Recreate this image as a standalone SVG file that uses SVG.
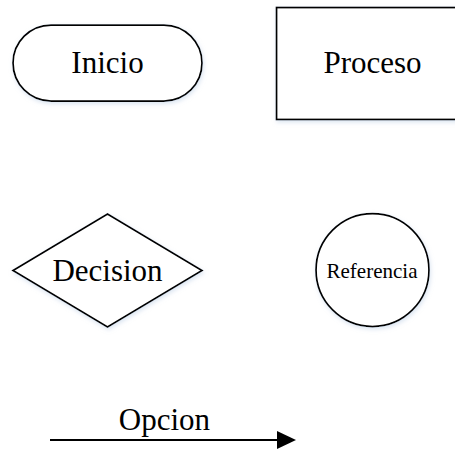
<svg xmlns="http://www.w3.org/2000/svg" width="455" height="450" viewBox="0 0 455 450">
  <defs>
    <filter id="sh" x="-10%" y="-10%" width="120%" height="125%">
      <feDropShadow dx="1" dy="2" stdDeviation="2" flood-color="#b8cce4" flood-opacity="0.5"/>
    </filter>
    <style>
      .shape { fill: #fff; stroke: #000; stroke-width: 1.75; filter: url(#sh); }
      .lbl { font-family: "Liberation Serif", "Times New Roman", serif; fill: #000; text-anchor: middle; }
    </style>
  </defs>
  <rect width="455" height="450" fill="#fff"/>
  <g id="inicio">
    <rect class="shape" x="13" y="25" width="189" height="76" rx="38" ry="38"/>
    <text class="lbl" x="107.5" y="73" font-size="31">Inicio</text>
  </g>
  <g id="proceso">
    <rect class="shape" x="276.5" y="7.5" width="190" height="112"/>
    <text class="lbl" x="372.5" y="73" font-size="31">Proceso</text>
  </g>
  <g id="decision">
    <polygon class="shape" points="107.5,214 202,270.5 107.5,327 13,270.5"/>
    <text class="lbl" x="107.5" y="281" font-size="31">Decision</text>
  </g>
  <g id="referencia">
    <circle class="shape" cx="372.5" cy="270" r="56.5"/>
    <text class="lbl" x="372" y="278" font-size="21">Referencia</text>
  </g>
  <g id="connectors">
    <line x1="50" y1="440" x2="278" y2="440" stroke="#000" stroke-width="2"/>
    <path d="M277,431 L296,440 L277,449 Z" fill="#000"/>
    <text class="lbl" x="164.5" y="430" font-size="31">Opcion</text>
  </g>
</svg>
